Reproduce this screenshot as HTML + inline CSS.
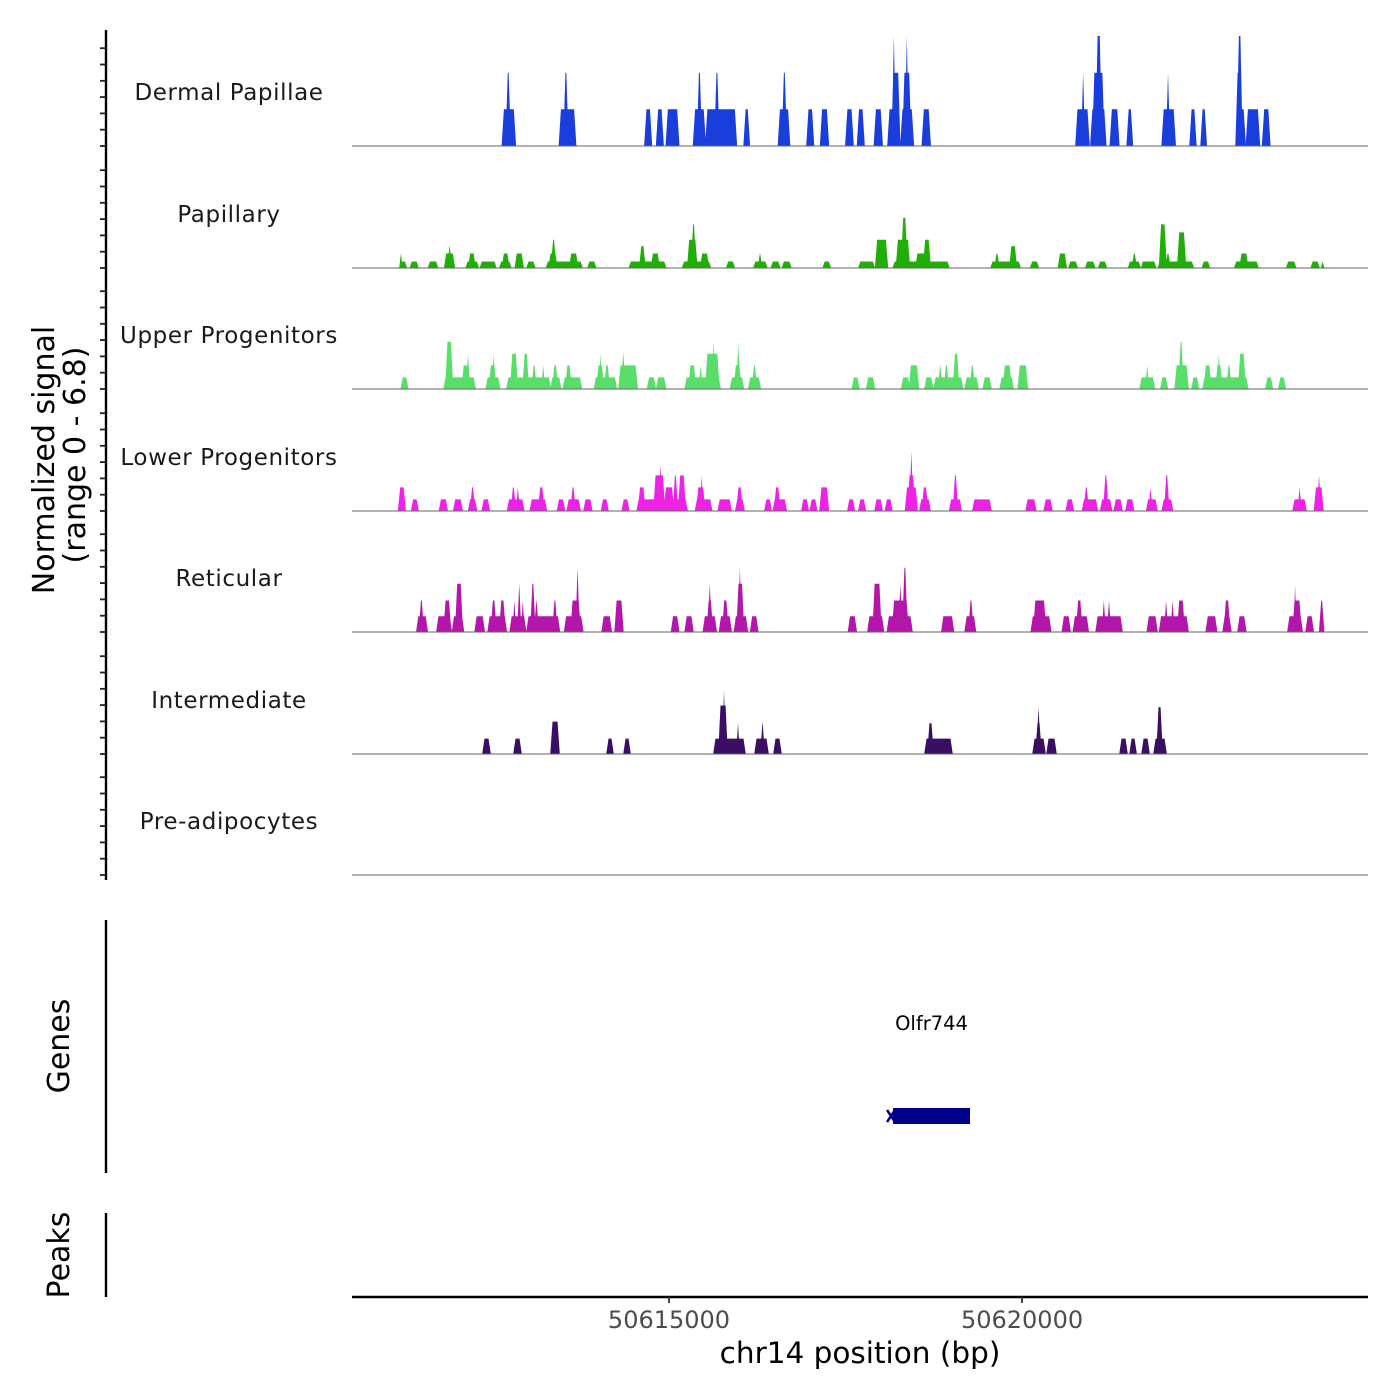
<!DOCTYPE html>
<html><head><meta charset="utf-8"><style>
html,body{margin:0;padding:0;background:#fff;}
svg{display:block;font-family:"DejaVu Sans","Liberation Sans",sans-serif;}
</style></head><body>
<svg id="chart" width="1400" height="1400" viewBox="0 0 1400 1400"></svg>
<script>
const regionStart = 50610510;
const regionEnd = 50624900;
const xTicks = [50615000, 50620000];
const xTickLabels = ["50615000", "50620000"];
const trackNames = ["Dermal Papillae","Papillary","Upper Progenitors","Lower Progenitors","Reticular","Intermediate","Pre-adipocytes"];
const trackColors = ["#1a3edb","#22ae08","#5ade6a","#ee22e6","#b317aa","#3a0e62","#888888"];
const yMax = 6.8;
// segments: [startOffsetBp, endOffsetBp, value]
const dermal = [[2130,2313,2.27],[2185,2240,4.53],[2938,3167,2.27],[3002,3057,4.53],[4149,4241,2.27],[4315,4406,2.27],[4452,4627,2.27],[4838,5003,2.27],[4893,4948,4.53],[5012,5444,2.27],[5141,5196,4.53],[5554,5627,2.27],[6040,6197,2.27],[6096,6151,4.53],[6444,6536,2.27],[6637,6747,2.27],[6995,7096,2.27],[7160,7252,2.27],[7399,7509,2.27],[7592,7757,2.27],[7647,7757,4.53],[7656,7693,6.8],[7775,7950,2.27],[7803,7913,4.53],[7840,7876,6.8],[8078,8189,2.27],[10254,10438,2.27],[10337,10373,4.53],[10465,10676,2.27],[10493,10649,4.53],[10539,10612,6.8],[10741,10860,2.27],[10979,11053,2.27],[11475,11659,2.27],[11539,11576,4.53],[11870,11952,2.27],[12026,12099,2.27],[12522,12650,2.27],[12522,12604,4.53],[12540,12604,6.8],[12668,12852,2.27],[12898,12999,2.27]];
const papillary = [[679,771,0.4],[679,707,0.9],[826,936,0.4],[1083,1212,0.4],[1313,1450,0.9],[1359,1405,1.35],[1616,1790,0.4],[1652,1744,0.9],[1818,2038,0.4],[2093,2249,0.4],[2130,2222,0.9],[2313,2424,0.9],[2479,2589,0.4],[2754,3259,0.4],[2791,2901,0.9],[2827,2883,1.75],[3084,3195,0.9],[3342,3452,0.4],[3929,4443,0.4],[4076,4149,1.35],[4241,4351,0.9],[4682,5077,0.4],[4755,4884,1.75],[4810,4865,2.7],[4939,5049,0.9],[5306,5416,0.4],[5692,5875,0.4],[5756,5802,0.9],[5939,6059,0.4],[6096,6215,0.4],[6674,6775,0.4],[7179,7399,0.4],[7417,7583,1.75],[7665,8455,0.4],[7711,7895,1.75],[7785,7858,3.1],[7987,8189,0.9],[8097,8189,1.75],[9051,9465,0.4],[9107,9162,0.9],[9318,9410,1.35],[9611,9722,0.4],[10006,10116,0.9],[10153,10272,0.4],[10392,10520,0.4],[10575,10686,0.4],[10998,11163,0.4],[11053,11108,0.9],[11181,11383,0.4],[11420,11916,0.4],[11438,11530,2.7],[11530,11585,0.9],[11695,11805,2.2],[12044,12145,0.4],[12503,12834,0.4],[12577,12687,0.9],[13238,13366,0.4],[13586,13697,0.4],[13733,13761,0.4]];
const upper = [[698,789,0.72],[1304,1744,0.72],[1331,1423,2.92],[1561,1652,1.46],[1625,1662,2.18],[1900,2093,0.72],[1946,2038,1.46],[1992,2020,2.18],[2194,2809,0.72],[2249,2341,2.18],[2424,2497,2.18],[2552,2607,1.46],[2690,2726,1.46],[2818,2956,0.72],[2846,2910,1.46],[2993,3250,0.72],[3029,3103,1.46],[3433,3745,0.72],[3470,3562,1.46],[3507,3534,2.18],[3580,3644,1.46],[3782,4039,1.46],[3819,3865,2.18],[4186,4296,0.72],[4315,4443,0.72],[4719,5214,0.72],[4774,4865,1.46],[4920,4957,1.46],[5012,5196,2.18],[5104,5141,2.92],[5361,5545,0.72],[5416,5508,1.46],[5453,5490,2.8],[5618,5783,0.72],[5673,5728,1.46],[7087,7179,0.72],[7289,7399,0.72],[7785,7895,0.72],[7895,8023,1.46],[8115,8225,0.72],[8244,8648,0.72],[8308,8354,1.46],[8391,8446,1.46],[8519,8592,2.18],[8684,8868,0.72],[8758,8813,1.46],[8941,9051,0.72],[9180,9364,0.72],[9226,9336,1.46],[9437,9566,1.46],[11163,11365,0.72],[11246,11282,1.46],[11457,11548,0.72],[11659,11842,1.46],[11714,11769,2.92],[11897,11989,0.72],[12053,12687,0.72],[12072,12164,1.46],[12237,12320,1.46],[12264,12292,2.18],[12393,12448,1.46],[12558,12650,2.18],[12944,13036,0.72],[13127,13219,0.72]];
const lower = [[661,753,1.46],[845,936,0.72],[1239,1349,0.72],[1441,1561,0.72],[1652,1763,0.72],[1680,1735,1.46],[1845,1946,0.72],[2203,2433,0.72],[2258,2313,1.46],[2332,2368,1.46],[2525,2754,0.72],[2644,2717,1.46],[2910,3011,0.72],[3048,3231,0.72],[3103,3158,1.46],[3286,3397,0.72],[3534,3626,0.72],[3828,3920,0.72],[4039,4746,0.72],[4058,4149,1.46],[4278,4425,2.2],[4351,4388,2.88],[4425,4553,1.46],[4553,4608,2.2],[4627,4719,2.2],[4865,5095,0.72],[4884,4994,1.46],[4939,4966,2.2],[5187,5370,0.72],[5435,5554,0.72],[5453,5526,1.46],[5848,5939,0.72],[5967,6151,0.72],[5985,6059,1.46],[6371,6463,0.72],[6490,6582,0.72],[6628,6747,1.46],[7023,7115,0.72],[7179,7271,0.72],[7408,7509,0.72],[7555,7647,0.72],[7840,8005,1.46],[7876,7968,2.2],[7904,7941,3.68],[8042,8189,0.72],[8078,8152,1.46],[8464,8629,0.72],[8519,8574,2.2],[8794,9051,0.72],[9547,9685,0.72],[9804,9914,0.72],[10116,10217,0.72],[10346,10557,0.72],[10373,10428,1.46],[10603,10759,0.72],[10649,10704,2.2],[10796,10906,0.72],[10961,11071,0.72],[11255,11402,0.72],[11291,11328,1.46],[11475,11622,0.72],[11512,11567,2.2],[13329,13513,0.72],[13403,13440,1.46],[13632,13752,1.46],[13678,13715,2.2]];
const reticular = [[918,1065,0.97],[955,1010,1.95],[1203,1405,0.97],[1304,1395,1.95],[1423,1579,0.97],[1469,1561,2.98],[1744,1873,0.97],[1928,2185,0.97],[1974,2038,1.95],[2093,2166,1.95],[2240,2460,0.97],[2286,2313,1.95],[2350,2387,2.98],[2405,2433,1.95],[2479,2938,0.97],[2534,2589,2.98],[2589,2635,1.95],[2846,2901,1.95],[3011,3268,0.97],[3103,3231,1.95],[3176,3213,3.97],[3543,3672,0.97],[3727,3837,1.95],[4526,4627,0.97],[4719,4829,0.97],[4976,5159,0.97],[5031,5104,1.95],[5049,5086,2.98],[5205,5370,0.97],[5251,5324,1.95],[5416,5600,0.97],[5453,5545,2.98],[5480,5508,3.97],[5646,5747,0.97],[7032,7142,0.97],[7307,7528,0.97],[7381,7491,2.98],[7583,7932,0.97],[7656,7876,1.95],[7748,7785,2.98],[7803,7858,3.97],[8354,8519,0.97],[8684,8831,0.97],[8739,8794,1.95],[9621,9896,0.97],[9657,9823,1.95],[10061,10171,0.97],[10217,10428,0.97],[10263,10337,1.95],[10539,10906,0.97],[10630,10667,1.95],[10704,10741,1.95],[11264,11402,0.97],[11438,11842,0.97],[11512,11548,1.95],[11604,11640,1.95],[11695,11787,1.95],[12099,12246,0.97],[12338,12448,0.97],[12356,12430,1.95],[12549,12659,0.97],[13256,13458,0.97],[13329,13440,1.95],[13348,13366,2.9],[13513,13614,0.97],[13706,13761,1.95]];
const intermediate = [[1855,1955,0.95],[2295,2394,0.95],[2819,2932,2.0],[3612,3697,0.95],[3853,3938,0.95],[5127,5566,0.95],[5198,5312,3.0],[5255,5283,3.95],[5453,5481,1.9],[5708,5892,0.95],[5793,5836,2.0],[5977,6076,0.95],[8116,8498,0.95],[8158,8229,1.9],[9646,9816,0.95],[9688,9759,1.9],[9702,9745,2.85],[9844,9971,0.95],[10878,10977,0.95],[11020,11105,0.95],[11190,11289,0.95],[11360,11530,0.95],[11402,11473,2.9]];
const preadipocytes = [];
const geneName = "Olfr744";
const geneStart = 50618173;
const geneEnd = 50619263;

const NS = "http://www.w3.org/2000/svg";
const svg = document.getElementById("chart");
const plotL = 352, plotR = 1368;
const baselines = [146, 268, 389, 511, 632, 754, 875];
const unitPx = 110 / yMax;
function xScale(bp){ return plotL + (bp - regionStart) / (regionEnd - regionStart) * (plotR - plotL); }
function yScale(v, base){ return base - v * unitPx; }
function mk(tag, attrs, parent){
  const e = document.createElementNS(NS, tag);
  for (const k in attrs) e.setAttribute(k, attrs[k]);
  (parent || svg).appendChild(e);
  return e;
}
function txt(s, attrs, parent){ const t = mk("text", attrs, parent); t.textContent = s; return t; }

const series = [dermal, papillary, upper, lower, reticular, intermediate, preadipocytes];

// left axis
const axisG = mk("g", {});


mk("line", {x1:106, y1:30, x2:106, y2:880, stroke:"#000", "stroke-width":2.4}, axisG);
baselines.forEach(function(b){
  for (let k = 0; k <= 6; k++) {
    const y = b - k * 16.3;
    const t = mk("line", {x1:100, y1:y, x2:106, y2:y, stroke:"#222", "stroke-width":1.8}, axisG);
    
    
  }
});
const yTitle = txt("Normalized signal", {x:0, y:0, "font-size":30, fill:"#000", "text-anchor":"middle", transform:"translate(54,460) rotate(-90)"});


const yTitle2 = txt("(range 0 - 6.8)", {x:0, y:0, "font-size":30, fill:"#000", "text-anchor":"middle", transform:"translate(85,455) rotate(-90)"});



// tracks
series.forEach(function(segs, i){
  const base = baselines[i];
  const g = mk("g", {});
  
  
  segs.forEach(function(s){
    const x0 = xScale(regionStart + s[0]), x1 = xScale(regionStart + s[1]);
    const yt = yScale(s[2], base);
    const r = Math.min(1.5, (x1 - x0) / 2);
    const p = mk("polygon", {points: (x0 - 0.8) + "," + base + " " + (x0 + r) + "," + yt + " " + (x1 - r) + "," + yt + " " + (x1 + 0.8) + "," + base, fill: trackColors[i]}, g);
    
    
  });
  const bl = mk("line", {x1:plotL, y1:base, x2:plotR, y2:base, stroke:"#666", "stroke-width":1.1}, g);
  
  
  const lb = txt(trackNames[i], {x:229, y:base - 46, "font-size":23, fill:"#1a1a1a", "text-anchor":"middle", "letter-spacing":"0.6"});
  
  
});

// genes panel
const gl = mk("line", {x1:106, y1:920, x2:106, y2:1173, stroke:"#000", "stroke-width":2.4});


const gt = txt("Genes", {x:0, y:0, "font-size":30, fill:"#000", "text-anchor":"middle", transform:"translate(69,1046) rotate(-90)"});


const gx0 = xScale(geneStart), gx1 = xScale(geneEnd);
const gr = mk("rect", {x:gx0, y:1108, width:gx1 - gx0, height:16, fill:"#00008b"});


const ga = mk("path", {d:"M" + (gx0 - 6) + ",1110 L" + (gx0 + 2) + ",1122 M" + (gx0 - 6) + ",1122 L" + (gx0 + 2) + ",1110", stroke:"#00008b", "stroke-width":2.5, fill:"none"});


const gn = txt(geneName, {x:(gx0 + gx1) / 2, y:1030, "font-size":19.5, fill:"#000", "text-anchor":"middle"});



// peaks panel
const pl = mk("line", {x1:106, y1:1213, x2:106, y2:1297, stroke:"#000", "stroke-width":2.4});


const pt = txt("Peaks", {x:0, y:0, "font-size":30, fill:"#000", "text-anchor":"middle", transform:"translate(69,1255) rotate(-90)"});



// x axis
const xa = mk("line", {x1:plotL, y1:1297, x2:plotR, y2:1297, stroke:"#000", "stroke-width":2.4});


xTicks.forEach(function(t, i){
  const x = xScale(t);
  const tk = mk("line", {x1:x, y1:1297, x2:x, y2:1303, stroke:"#333", "stroke-width":1.8});
  
  
  const tl = txt(xTickLabels[i], {x:x, y:1328, "font-size":24, fill:"#4d4d4d", "text-anchor":"middle"});
  
  
});
const xt = txt("chr14 position (bp)", {x:860, y:1363, "font-size":29.5, fill:"#000", "text-anchor":"middle"});


</script>
</body></html>
